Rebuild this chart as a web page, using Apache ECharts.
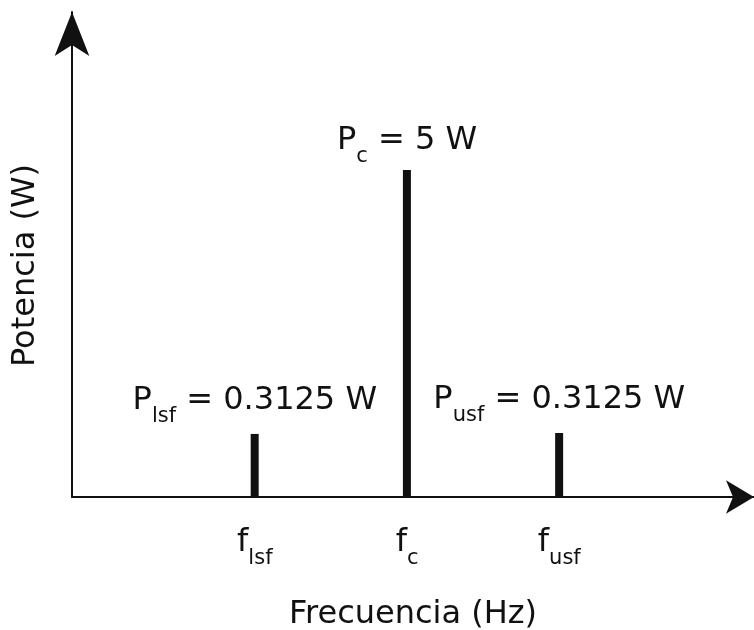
<!DOCTYPE html>
<html>
<head>
<meta charset="utf-8">
<script src="https://cdn.jsdelivr.net/npm/echarts@6/dist/echarts.min.js"></script>
<style>html,body{margin:0;padding:0;background:#fff;}#c{width:754px;height:630px;}</style>
</head>
<body>
<div id="c"></div>
<script>
// Spectral components (subscripts of f and P)
const components = ['lsf', 'c', 'usf'];
// Frequency positions relative to carrier (fc - fm, fc, fc + fm)
const freqPositions = [-1, 0, 1];
// Power values written on the chart (W)
const powerValues = ['0.3125', '5', '0.3125'];
// Drawn bar heights (figure not to scale, axis max 100)
const barHeights = [13.0, 67.4, 13.2];
// Axis names
const xName = 'Frecuencia (Hz)';
const yName = 'Potencia (W)';

const FONT = 'DejaVu Sans';
const INK = '#111';
const richStyles = {
  h: { fontSize: 1, lineHeight: 42, color: 'rgba(0,0,0,0)' },
  p: { fontSize: 32, fontFamily: FONT, color: INK, lineHeight: 32, verticalAlign: 'top' },
  s: { fontSize: 21, fontFamily: FONT, color: INK, lineHeight: 21, verticalAlign: 'bottom' }
};

const labelDistances = [7, 3, 7];

const data = freqPositions.map((x, i) => ({
  value: [x, barHeights[i]],
  label: {
    show: true,
    position: 'top',
    distance: labelDistances[i],
    formatter: '{h|.}{p|P}{s|' + components[i] + '}{p| = ' + powerValues[i] + ' W}',
    rich: richStyles
  }
}));

const chart = echarts.init(document.getElementById('c'), null, { renderer: 'canvas' });
chart.setOption({
  backgroundColor: '#fff',
  animation: false,
  grid: { left: 72, right: 0, top: 12, bottom: 133, containLabel: false, outerBoundsMode: 'none' },
  xAxis: {
    type: 'value',
    min: -2.2,
    max: 2.28,
    name: xName,
    nameLocation: 'middle',
    nameGap: 100,
    nameTextStyle: { fontSize: 32, fontFamily: FONT, color: INK, lineHeight: 36 },
    splitLine: { show: false },
    axisTick: { show: false },
    axisLine: {
      show: true,
      onZero: false,
      symbol: ['none', 'arrow'],
      symbolSize: [25, 28],
      lineStyle: { color: INK, width: 2 }
    },
    axisLabel: {
      margin: 30,
      customValues: freqPositions,
      formatter: function (v) {
        const i = freqPositions.indexOf(v);
        return i < 0 ? '' : '{h|.}{p|f}{s|' + components[i] + '}';
      },
      rich: richStyles
    }
  },
  yAxis: {
    type: 'value',
    min: 0,
    max: 100,
    name: yName,
    nameLocation: 'middle',
    nameGap: 28,
    nameRotate: 90,
    nameTextStyle: { fontSize: 32, fontFamily: FONT, color: INK, lineHeight: 36, padding: [0, 22, 0, 0] },
    splitLine: { show: false },
    axisTick: { show: false },
    axisLabel: { show: false },
    axisLine: {
      show: true,
      onZero: false,
      symbol: ['none', 'arrow'],
      symbolSize: [26, 44],
      lineStyle: { color: INK, width: 2 }
    }
  },
  series: [{
    type: 'bar',
    data: data,
    barWidth: 8,
    itemStyle: { color: INK },
    silent: true
  }]
});
</script>
</body>
</html>
